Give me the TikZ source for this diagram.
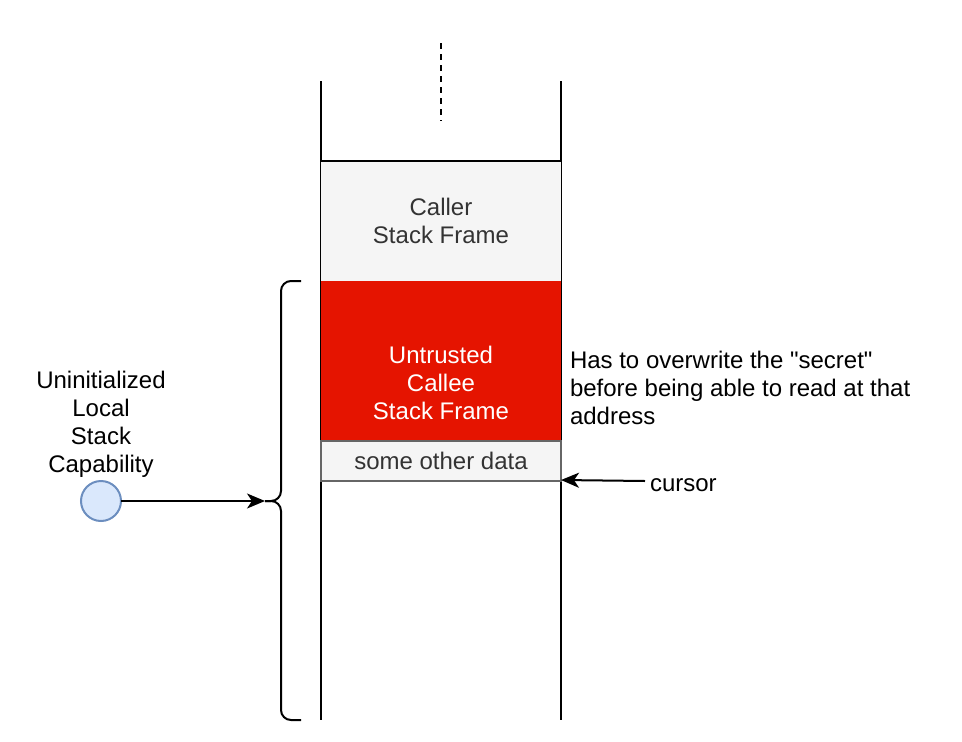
\documentclass[tikz,border=0pt]{standalone}
\usepackage{fontspec}
\setmainfont{Liberation Sans}[Ligatures=TeXOff]
\usetikzlibrary{arrows.meta}
\definecolor{lightfill}{HTML}{F5F5F5}
\definecolor{darktext}{HTML}{333333}
\definecolor{redfill}{HTML}{E51400}
\definecolor{greyline}{HTML}{666666}
\definecolor{bluefill}{HTML}{DAE8FC}
\definecolor{blueline}{HTML}{6C8EBF}
\begin{document}
\begin{tikzpicture}[x=1pt,y=-1pt,
  every node/.style={font=\fontsize{24}{28}\selectfont, inner sep=0pt, outer sep=0pt},
  wall/.style={line width=2pt, black},
  frame/.style={minimum width=240pt, align=center, anchor=north west},
  tip/.style={-{Stealth[length=18pt,width=15pt,inset=5pt]}, line width=2pt},
  label/.style={align=center},
  note/.style={align=left, anchor=west}]
\useasboundingbox (0,0) rectangle (962,742);
% walls
\draw[wall] (321,81) -- (321,720);
\draw[wall] (561,81) -- (561,720);
\draw[wall, dash pattern=on 6pt off 5pt] (441,43) -- (441,121);
% frames
\node[frame, fill=lightfill, minimum height=120pt, text=darktext] (caller) at (321,161) {Caller\\Stack Frame};
\node[frame, fill=redfill, minimum height=160pt] (callee) at (321,281) {};
\node[label, text=white] (calleetext) at (441,383) {Untrusted\\Callee\\Stack Frame};
\draw[wall] (caller.north west) -- (caller.north east);
\node[frame, fill=lightfill, draw=greyline, line width=2pt, minimum width=240pt, minimum height=40pt, text=darktext, anchor=center] (other) at (441,461) {some other data};
% brace
\coordinate (bt) at (265,501);
\draw[line width=2pt, rounded corners=10pt] (301,281) -- (281,281) -- (281,501) -- (bt);
\draw[line width=2pt, rounded corners=10pt] (bt) -- (281,501) -- (281,720) -- (301,720);
% capability
\node[circle, fill=bluefill, draw=blueline, line width=2pt, minimum size=40pt] (cap) at (101,501) {};
\node[label] (caplabel) at (101,424) {Uninitialized\\Local\\Stack\\Capability};
\draw[tip] (cap) -- (bt);
% notes
\node[note] (secret) at (570,388) {Has to overwrite the "secret"\\before being able to read at that\\address};
\node[note] (cursor) at (650,485) {cursor};
\coordinate (cpos) at (561,480);
\coordinate (cs) at (645,481);
\draw[tip] (cs) -- (cpos);
\end{tikzpicture}
\end{document}
